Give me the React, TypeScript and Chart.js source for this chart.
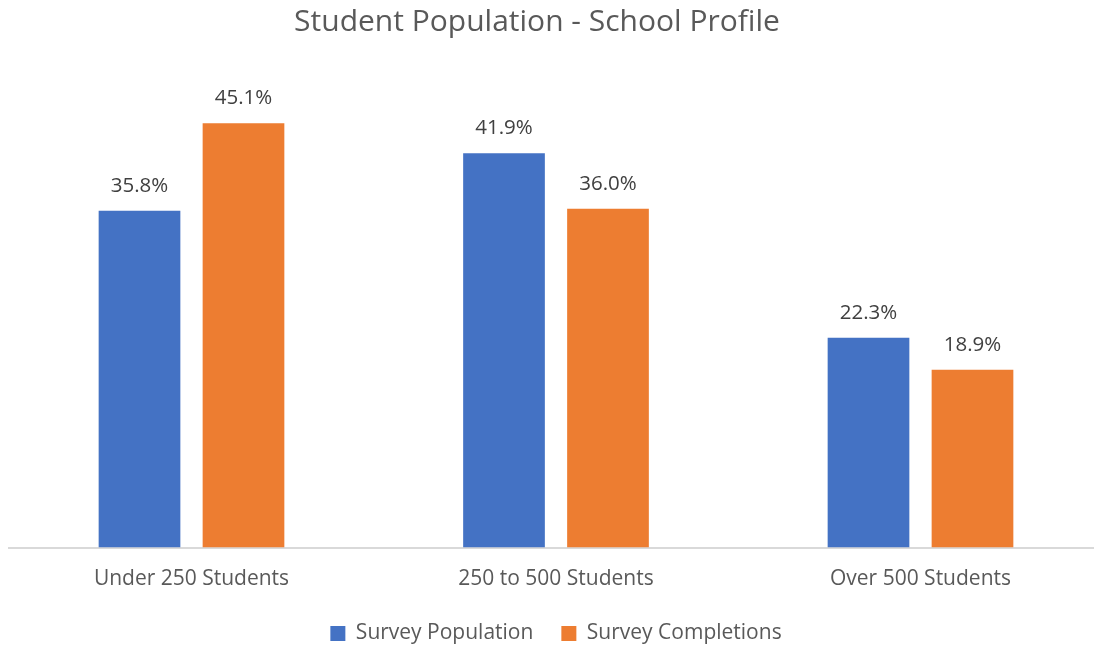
import React, { useEffect, useRef } from "react";
import { Chart, registerables } from "chart.js";

Chart.register(...registerables);

const categories = ["Under 250 Students", "250 to 500 Students", "Over 500 Students"];
const surveyPopulation = [35.8, 41.9, 22.3];
const surveyCompletions = [45.1, 36.0, 18.9];
const seriesNames = ["Survey Population", "Survey Completions"];
const titleText = "Student Population - School Profile";

const FONT = "'Open Sans', sans-serif";

const dataLabelPlugin = {
  id: "dataLabels",
  afterDatasetsDraw(chart: any) {
    const ctx = chart.ctx;
    ctx.save();
    ctx.font = `20.5px ${FONT}`;
    ctx.fillStyle = "#404040";
    ctx.textAlign = "center";
    ctx.textBaseline = "middle";
    chart.data.datasets.forEach((ds: any, i: number) => {
      const meta = chart.getDatasetMeta(i);
      meta.data.forEach((bar: any, j: number) => {
        const v = ds.data[j];
        ctx.fillText(v.toFixed(1) + "%", bar.x, bar.y - 25);
      });
    });
    ctx.restore();
  },
};

const titlePlugin = {
  id: "offsetTitle",
  afterDraw(chart: any) {
    const ctx = chart.ctx;
    const area = chart.chartArea;
    ctx.save();
    ctx.font = `30px ${FONT}`;
    ctx.fillStyle = "#595959";
    ctx.textAlign = "center";
    ctx.textBaseline = "alphabetic";
    ctx.fillText(titleText, (area.left + area.right) / 2 - 19, 30.5);
    ctx.restore();
  },
};

const LEGEND_PAD = 28;

export default function App() {
  const ref = useRef<HTMLCanvasElement | null>(null);
  useEffect(() => {
    if (!ref.current) return;
    const chart = new Chart(ref.current, {
      type: "bar",
      data: {
        labels: categories,
        datasets: [
          {
            label: seriesNames[0],
            data: surveyPopulation,
            backgroundColor: "#4472C4",
            categoryPercentage: 0.5706,
            barPercentage: 0.7856,
          },
          {
            label: seriesNames[1],
            data: surveyCompletions,
            backgroundColor: "#ED7D31",
            categoryPercentage: 0.5706,
            barPercentage: 0.7856,
          },
        ],
      },
      options: {
        responsive: false,
        animation: false,
        devicePixelRatio: 1,
        layout: { padding: { left: 9.25, right: 7.25, top: 77.1, bottom: 0 } },
        scales: {
          x: {
            grid: { display: false, drawTicks: false },
            border: { display: true, color: "#D9D9D9", width: 2 },
            ticks: { color: "#595959", font: { family: FONT, size: 21 }, padding: 18.9 },
            afterFit: (scale: any) => {
              scale.height = 75.5 - LEGEND_PAD;
            },
          },
          y: { display: false, min: 0, max: 50 },
        },
        plugins: {
          title: { display: false },
          legend: {
            position: "bottom",
            fullSize: false,
            labels: {
              color: "#595959",
              font: { family: FONT, size: 21 },
              boxWidth: 15,
              boxHeight: 15,
              padding: LEGEND_PAD,
            },
          },
          tooltip: { enabled: false },
        },
      },
      plugins: [dataLabelPlugin, titlePlugin],
    });
    return () => chart.destroy();
  }, []);
  return (
    <div style={{ position: "fixed", left: 0, top: 0, width: 1094, height: 646, overflow: "hidden", background: "#fff" }}>
      <canvas ref={ref} width={1110} height={654} style={{ display: "block" }} />
    </div>
  );
}
